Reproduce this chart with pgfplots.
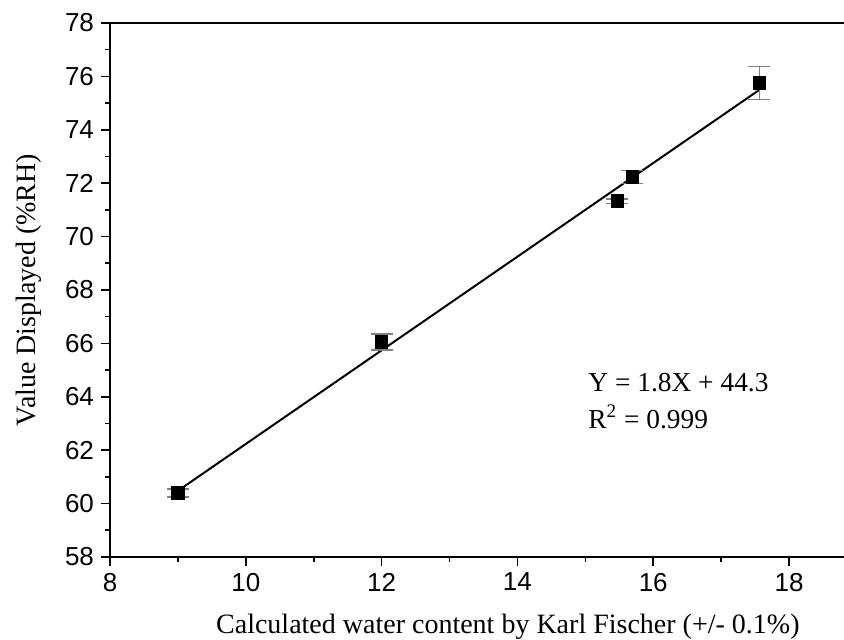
\documentclass[border=0pt]{standalone}
\usepackage{fontspec}
\setmainfont{Liberation Serif}
\newfontfamily\arial{Liberation Sans}
\usepackage{pgfplots}
\pgfplotsset{compat=1.18}

\begin{document}
\begin{tikzpicture}
\begin{axis}[
    scale only axis,
    width=367pt, height=267pt,
    xmin=8, xmax=18.81,
    ymin=58, ymax=78,
    axis x line*=box,
    axis y line*=left,
    axis line style={line width=0.8pt},
    xtick={8,10,...,18},
    ytick={58,60,...,78},
    minor x tick num=1,
    minor y tick num=1,
    xtick pos=bottom,
    ytick pos=left,
    tick align=outside,
    major tick length=4.5pt,
    minor tick length=2.5pt,
    every tick/.style={black, line width=0.8pt},
    tick label style={font=\arial\fontsize{13}{15}\selectfont},
    /pgf/number format/assume math mode=true,
    xlabel={Calculated water content by Karl Fischer (+/- 0.1\%)},
    ylabel={Value Displayed (\%RH)},
    label style={font=\fontsize{14}{16}\selectfont},
    xlabel style={at={(rel axis cs:0.542,0)}, anchor=north, yshift=-25pt},
    ylabel style={yshift=5pt},
    clip=false,
]
% regression line
\addplot[black, line width=1pt] coordinates {(9.0,60.48) (17.56,75.49)};
% measured points with error bars
\addplot[only marks, mark=square*, mark size=3.1pt, black,
    error bars/.cd, y dir=both, y explicit,
    error bar style={gray, line width=0.6pt},
    error mark options={rotate=90, mark size=5.5pt, gray, line width=0.6pt}]
coordinates {
    (9.0,60.4)   +- (0,0.15)
    (12.0,66.05) +- (0,0.3)
    (15.47,71.33) +- (0,0.08)
    (15.69,72.23) +- (0,0.25)
    (17.56,75.75) +- (0,0.63)
};
\node[anchor=base west, inner sep=0pt, font=\fontsize{13.7}{16}\selectfont] at (axis cs:15.04,64.18) {Y = 1.8X + 44.3};
\node[anchor=base west, inner sep=0pt, font=\fontsize{13.7}{16}\selectfont] at (axis cs:15.04,62.83) {R\textsuperscript{2} = 0.999};
\end{axis}
\pgfresetboundingbox
\path ([shift={(-55pt,-41.5pt)}]current axis.south west) rectangle ([shift={(0pt,11.5pt)}]current axis.north east);
\end{tikzpicture}
\end{document}
